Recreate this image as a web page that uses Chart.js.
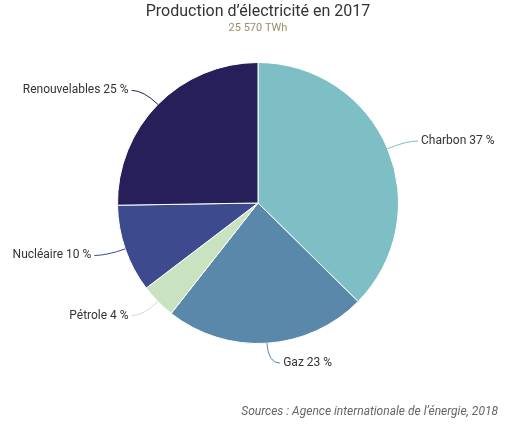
<!DOCTYPE html>
<html>
<head>
<meta charset="utf-8">
<script src="https://cdn.jsdelivr.net/npm/chart.js@4"></script>
<style>
  body { margin: 0; background: #fff; }
  #wrap { width: 510px; height: 426px; }
</style>
</head>
<body>
<div id="wrap"><canvas id="pie"></canvas></div>
<script>
// Data
const categories = ['Charbon', 'Gaz', 'Pétrole', 'Nucléaire', 'Renouvelables'];
const shares = [37, 23, 4, 10, 25];
const sliceColors = ['#7dbfc4', '#5a88ab', '#c9e2c0', '#3e4a8e', '#261f5a'];
const titleText = 'Production d\u2019électricité en 2017';
const subtitleText = '25 570 TWh';
const sourceText = 'Sources : Agence internationale de l\u2019énergie, 2018';

// Outside labels with leader lines, placed from the arc elements
const labelPlugin = {
    id: 'outsideLabels',
    afterDatasetsDraw(chart) {
        const ctx = chart.ctx;
        const arcs = chart.getDatasetMeta(0).data;
        ctx.save();
        ctx.font = '12px Roboto';
        ctx.fillStyle = '#333';
        arcs.forEach((arc, i) => {
            const mid = (arc.startAngle + arc.endAngle) / 2;
            const r = arc.outerRadius;
            const x0 = arc.x + Math.cos(mid) * r, y0 = arc.y + Math.sin(mid) * r;
            const x1 = arc.x + Math.cos(mid) * (r + 20), y1 = arc.y + Math.sin(mid) * (r + 20);
            const dir = Math.cos(mid) >= 0 ? 1 : -1;
            const x2 = x1 + dir * 12;
            ctx.strokeStyle = sliceColors[i];
            ctx.lineWidth = 1;
            ctx.beginPath();
            ctx.moveTo(x0, y0);
            ctx.quadraticCurveTo(x1, y1, x2, y1);
            ctx.stroke();
            ctx.textAlign = dir > 0 ? 'left' : 'right';
            ctx.textBaseline = 'middle';
            ctx.fillText(categories[i] + ' ' + shares[i] + ' %', x2 + dir * 3, y1);
        });
        // titles and source
        ctx.textAlign = 'center';
        ctx.textBaseline = 'middle';
        ctx.fillStyle = '#333';
        ctx.font = '16px Roboto';
        ctx.fillText(titleText, 258, 12);
        ctx.fillStyle = '#9c8c6c';
        ctx.font = '11px Roboto';
        ctx.fillText(subtitleText, 258, 28);
        ctx.textAlign = 'right';
        ctx.fillStyle = '#666';
        ctx.font = 'italic 12px Roboto';
        ctx.fillText(sourceText, 498, 412);
        ctx.restore();
    }
};

new Chart(document.getElementById('pie'), {
    type: 'pie',
    data: {
        labels: categories,
        datasets: [{
            data: shares,
            backgroundColor: sliceColors,
            borderColor: '#fff',
            borderWidth: 1
        }]
    },
    options: {
        responsive: true,
        maintainAspectRatio: false,
        animation: false,
        layout: { padding: { top: 62, bottom: 82, left: 100, right: 94 } },
        plugins: {
            legend: { display: false },
            tooltip: { enabled: false }
        }
    },
    plugins: [labelPlugin]
});
</script>
</body>
</html>
